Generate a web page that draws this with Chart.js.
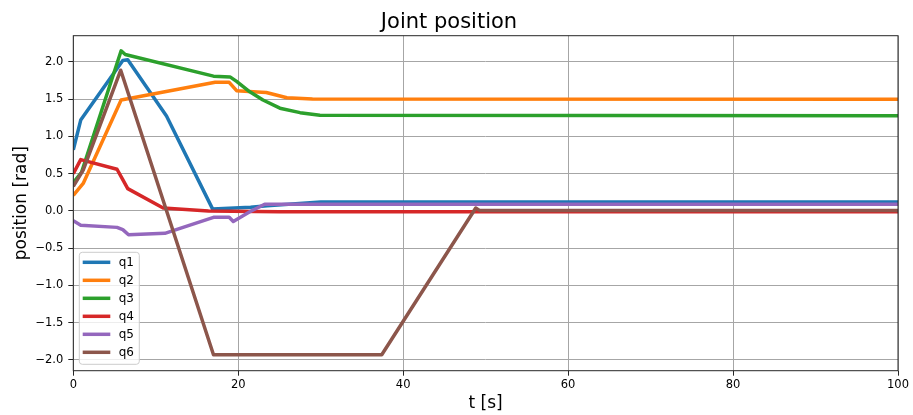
<!DOCTYPE html>
<html>
<head>
<meta charset="utf-8">
<title>Joint position</title>
<script src="https://cdn.jsdelivr.net/npm/chart.js@4.4.1/dist/chart.umd.min.js"></script>
<style>
  body { margin: 0; background: #fff; }
  canvas { display: block; }
</style>
</head>
<body>
<canvas id="jointChart" width="913" height="415"></canvas>
<script>
// joint trajectories (t in s, q in rad)
const q1T = [0, 0.9, 6.0, 6.6, 11.3, 16.9, 21.5, 23.5, 30, 100];
const q1Q = [0.82, 1.22, 2.02, 2.03, 1.275, 0.025, 0.05, 0.07, 0.12, 0.12];

const q2T = [0, 1.2, 5.8, 17.2, 18.9, 19.8, 21.8, 23.4, 25.9, 29, 100];
const q2Q = [0.21, 0.37, 1.49, 1.727, 1.727, 1.615, 1.6, 1.59, 1.52, 1.503, 1.5];

const q3T = [0, 1.0, 5.8, 6.3, 17.0, 19.0, 19.8, 21.4, 23.0, 25.05, 27.5, 29.9, 100];
const q3Q = [0.38, 0.52, 2.15, 2.1, 1.81, 1.8, 1.74, 1.6, 1.49, 1.38, 1.32, 1.285, 1.28];

const q4T = [0, 0.9, 5.3, 6.0, 6.6, 10.9, 16.4, 25, 100];
const q4Q = [0.5, 0.69, 0.56, 0.42, 0.3, 0.04, 0.0, -0.01, -0.01];

const q5T = [0, 0.9, 5.3, 6.0, 6.7, 11.1, 17.0, 18.9, 19.4, 21.4, 23.2, 100];
const q5Q = [-0.13, -0.19, -0.22, -0.25, -0.32, -0.3, -0.085, -0.085, -0.14, -0.01, 0.09, 0.09];

const q6T = [0, 1.2, 5.75, 17.0, 37.4, 48.8, 49.3, 100];
const q6Q = [0.33, 0.55, 1.89, -1.93, -1.93, 0.04, 0.005, 0.005];

const seriesNames = ['q1', 'q2', 'q3', 'q4', 'q5', 'q6'];
const seriesT = [q1T, q2T, q3T, q4T, q5T, q6T];
const seriesQ = [q1Q, q2Q, q3Q, q4Q, q5Q, q6Q];
const seriesColors = ['#1f77b4', '#ff7f0e', '#2ca02c', '#d62728', '#9467bd', '#8c564b'];

const xTicks = [0, 20, 40, 60, 80, 100];
const yTicks = [-2.0, -1.5, -1.0, -0.5, 0.0, 0.5, 1.0, 1.5, 2.0];

Chart.defaults.font.family = 'DejaVu Sans';
Chart.defaults.color = '#000';

// top/right spines like matplotlib
const frame = {
  id: 'frame',
  afterDatasetsDraw(chart) {
    const { ctx, chartArea: a } = chart;
    ctx.save();
    ctx.strokeStyle = '#262626';
    ctx.lineWidth = 1;
    ctx.strokeRect(a.left, a.top, a.right - a.left, a.bottom - a.top);
    ctx.restore();
  }
};

// legend box in the lower left corner of the plot
const boxLegend = {
  id: 'boxLegend',
  afterDraw(chart) {
    const { ctx, chartArea: a } = chart;
    const sets = chart.data.datasets;
    const rowH = 18;
    const w = 60;
    const h = rowH * (sets.length - 1) + 22;
    const x = a.left + 6;
    const y = a.bottom - 6.4 - h;
    ctx.save();
    ctx.beginPath();
    if (ctx.roundRect) ctx.roundRect(x, y, w, h, 3);
    else ctx.rect(x, y, w, h);
    ctx.fillStyle = 'rgba(255,255,255,0.8)';
    ctx.fill();
    ctx.strokeStyle = '#cccccc';
    ctx.lineWidth = 1;
    ctx.stroke();
    ctx.font = '12px "DejaVu Sans"';
    ctx.textBaseline = 'middle';
    ctx.textAlign = 'left';
    sets.forEach((ds, i) => {
      const ly = y + 10 + i * rowH;
      ctx.beginPath();
      ctx.moveTo(x + 3.4, ly);
      ctx.lineTo(x + 31, ly);
      ctx.strokeStyle = ds.borderColor;
      ctx.lineWidth = 3.5;
      ctx.stroke();
      ctx.fillStyle = '#000';
      ctx.fillText(ds.label, x + 39.4, ly + 0.5);
    });
    ctx.restore();
  }
};

const datasets = seriesNames.map((name, i) => ({
  label: name,
  data: seriesT[i].map((t, k) => ({ x: t, y: seriesQ[i][k] })),
  borderColor: seriesColors[i],
  backgroundColor: seriesColors[i],
  borderWidth: 3.5,
  borderJoinStyle: 'round',
  pointRadius: 0,
  tension: 0,
  fill: false,
  order: seriesNames.length - i
}));

new Chart(document.getElementById('jointChart'), {
  type: 'line',
  data: { datasets: datasets },
  plugins: [frame, boxLegend],
  options: {
    responsive: false,
    animation: false,
    devicePixelRatio: 1,
    layout: { padding: { left: 0, right: 15, top: 0, bottom: 0 } },
    plugins: {
      legend: { display: false },
      tooltip: { enabled: false },
      title: {
        display: true,
        text: 'Joint position',
        color: '#000',
        font: { size: 21, weight: 'normal' },
        padding: { top: 10, bottom: 0.5 }
      }
    },
    scales: {
      x: {
        type: 'linear',
        min: 0,
        max: 100,
        afterBuildTicks: s => { s.ticks = xTicks.map(v => ({ value: v })); },
        afterFit: s => { s.height = 44.3; },
        grid: { color: '#a6a6a6', lineWidth: 1, tickColor: '#262626', tickLength: 5 },
        border: { display: false },
        ticks: {
          color: '#000',
          font: { size: 11.5 },
          padding: 2.5,
          maxRotation: 0,
          autoSkip: false,
          callback: v => String(v)
        },
        title: { display: true, text: 't [s]', color: '#000', font: { size: 17 }, padding: { top: 0, bottom: 1 } }
      },
      y: {
        type: 'linear',
        min: -2.144,
        max: 2.353,
        afterBuildTicks: s => { s.ticks = yTicks.map(v => ({ value: v })); },
        afterFit: s => { s.width = 73.3; },
        grid: { color: '#a6a6a6', lineWidth: 1, tickColor: '#262626', tickLength: 5 },
        border: { display: false },
        ticks: {
          color: '#000',
          font: { size: 11.5 },
          padding: 5,
          autoSkip: false,
          callback: v => v.toFixed(1).replace('-', '\u2212')
        },
        title: { display: true, text: 'position [rad]', color: '#000', font: { size: 17 }, padding: { top: 11, bottom: 0 } }
      }
    }
  }
});
</script>
</body>
</html>
